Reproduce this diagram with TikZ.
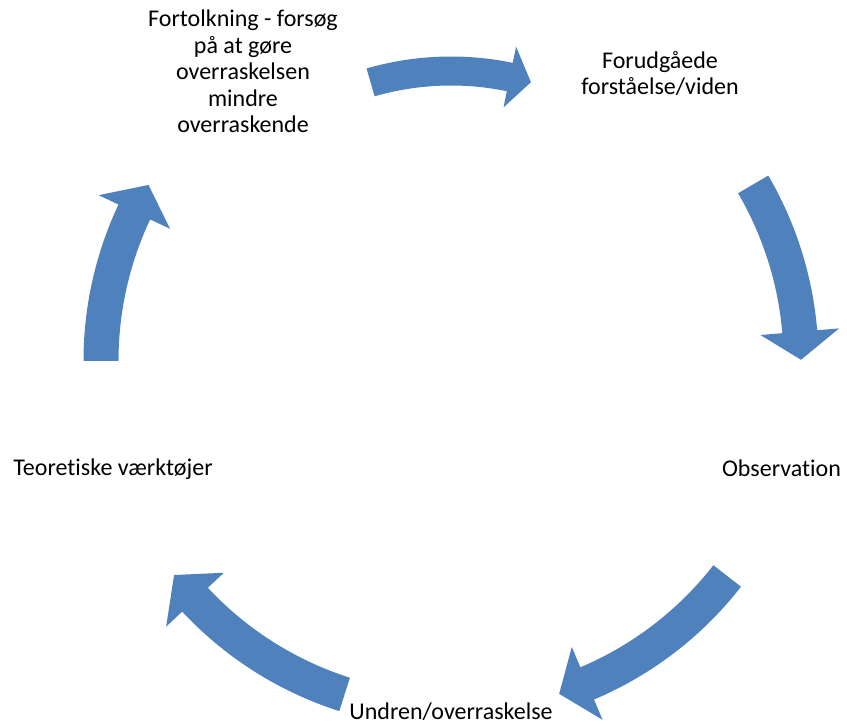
\documentclass[tikz,border=0pt]{standalone}
\usepackage{fontspec}
\setmainfont{Carlito}[Ligatures=NoCommon]
\usetikzlibrary{calc,positioning}
\definecolor{cycleblue}{HTML}{4F81BD}
\tikzset{
  steptext/.style={align=center, inner sep=0pt, font=\fontsize{24}{26.5}\selectfont},
  cyclefill/.style={fill=cycleblue, draw=none}
}
% radius, shaft width, head width, tail angle, head base angle, tip angle
\newcommand{\cyclearrow}[6]{%
  \pgfmathsetmacro{\ro}{#1+#2/2}
  \pgfmathsetmacro{\ri}{#1-#2/2}
  \pgfmathsetmacro{\bo}{#1+#3/2}
  \pgfmathsetmacro{\bi}{#1-#3/2}
  \fill[cyclefill] (#4:\ro) arc[start angle=#4, end angle=#5, radius=\ro]
    -- (#5:\bo) -- (#6:#1) -- (#5:\bi) -- (#5:\ri)
    arc[start angle=#5, end angle=#4, radius=\ri] -- cycle;}

\begin{document}
\begin{tikzpicture}[x=1pt,y=1pt]
    \useasboundingbox (0,0) rectangle (847,725);
    \coordinate (ctr) at (451,364);

    % arrows round the cycle
    \begin{scope}[shift={(ctr)}]
      \cyclearrow{290}{29}{62}{106.1}{78.3}{74}
      \cyclearrow{350}{35}{79}{30.3}{4.8}{0.2}
      \cyclearrow{350}{35}{79}{-37.9}{-67.1}{-72}
      \cyclearrow{350}{35}{79}{-107.7}{-137}{-142.3}
      \cyclearrow{350}{35}{79}{180}{154.8}{149.8}
    \end{scope}

    % texts (base = last line)
    \node[steptext, anchor=base] (tolk) at (243,592) {Fortolkning - forsøg\\på at gøre\\overraskelsen\\mindre\\overraskende};
    \node[steptext, anchor=base] (forud) at (660,630) {Forudgåede\\forståelse/viden};
    \node[steptext, anchor=base] (obs) at (781.5,248.3) {Observation};
    \node[steptext, anchor=base] (undren) at (451,5) {Undren/overraskelse};
    \node[steptext, anchor=base] (teori) at (113,249) {Teoretiske værktøjer};
\end{tikzpicture}
\end{document}
